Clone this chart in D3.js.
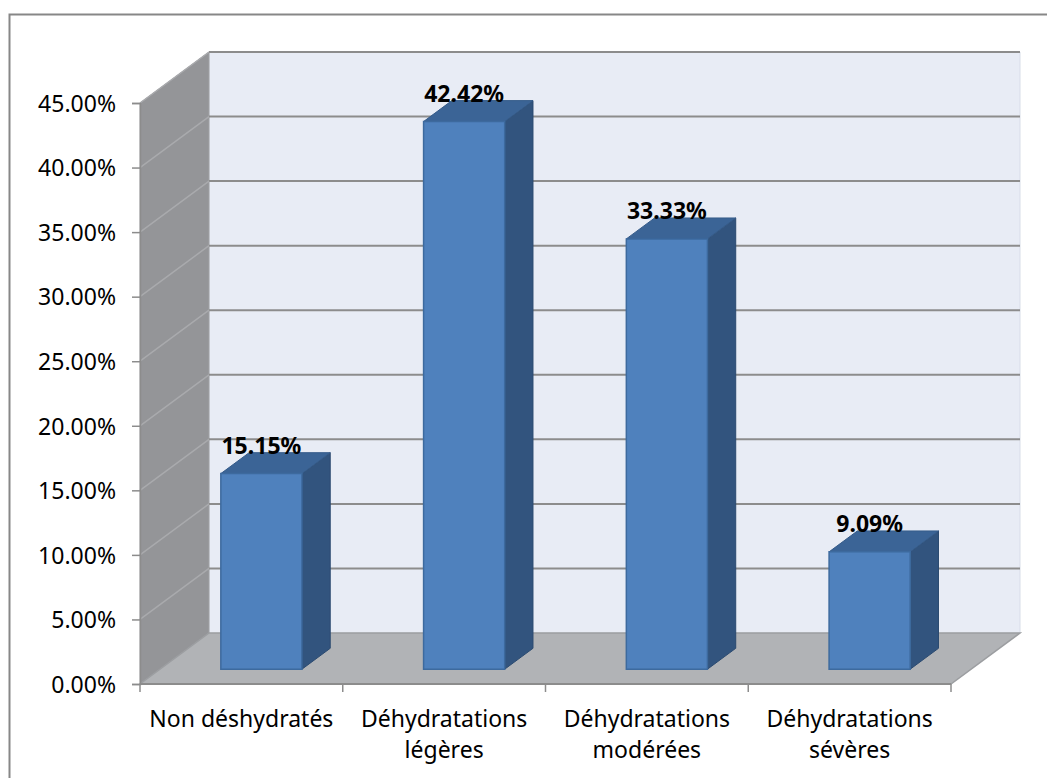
<!DOCTYPE html>
<html>
<head>
<meta charset="utf-8">
<script src="https://cdn.jsdelivr.net/npm/d3@7"></script>
<style>
  html, body { margin: 0; padding: 0; background: #ffffff; }
  svg { display: block; }
</style>
</head>
<body>
<svg id="chart" width="1047" height="778"></svg>
<script>
// Répartition des patients selon le degré de déshydratation
const categories = ["Non déshydratés", "Déhydratations\nlégères", "Déhydratations\nmodérées", "Déhydratations\nsévères"];
const values = [15.15, 42.42, 33.33, 9.09];
const yTicks = [0, 5, 10, 15, 20, 25, 30, 35, 40, 45];

const W = 1047, H = 778;
const svg = d3.select("#chart");

// front plane of the 3D box
const x = d3.scaleBand().domain(categories).range([140, 951]).paddingInner(0.6).paddingOuter(0.3);
const y = d3.scaleLinear().domain([0, 45]).range([684, 103]);

// oblique depth vector (front -> back)
const DX = 69, DY = -51;
const F0 = 0.29, F1 = 0.70;   // bar front / back depth fractions
const P = (px, py, f) => [px + f * DX, py + f * DY];

const pct = d => d3.format(".2f")(d) + "%";
const font = "'Noto Sans', 'DejaVu Sans', sans-serif";

// outer frame
svg.append("rect")
  .attr("x", 9.5).attr("y", 14.5).attr("width", W).attr("height", H)
  .attr("fill", "#ffffff").attr("stroke", "#878787").attr("stroke-width", 2);

const x0 = x.range()[0], x1 = x.range()[1];
const y0 = y(0), yTop = y(45);

// back wall
const backPts = [P(x0, yTop, 1), P(x1, yTop, 1), P(x1, y0, 1), P(x0, y0, 1)];
svg.append("polygon").attr("points", backPts.map(p => p.join(",")).join(" "))
  .attr("fill", "#e8ecf5").attr("stroke", "#d8dde8").attr("stroke-width", 1);

// left wall
const leftPts = [[x0, yTop], P(x0, yTop, 1), P(x0, y0, 1), [x0, y0]];
svg.append("polygon").attr("points", leftPts.map(p => p.join(",")).join(" "))
  .attr("fill", "#949598").attr("stroke", "#a0a1a4").attr("stroke-width", 1);

// gridlines on back wall
svg.append("g").selectAll("line").data(yTicks.filter(d => d > 0)).join("line")
  .attr("x1", d => P(x0, y(d), 1)[0]).attr("y1", d => P(x0, y(d), 1)[1])
  .attr("x2", d => P(x1, y(d), 1)[0]).attr("y2", d => P(x1, y(d), 1)[1])
  .attr("stroke", "#8c8c8c").attr("stroke-width", 2);

// gridlines on left wall
svg.append("g").selectAll("line").data(yTicks.filter(d => d > 0)).join("line")
  .attr("x1", x0).attr("y1", d => y(d))
  .attr("x2", d => P(x0, y(d), 1)[0]).attr("y2", d => P(x0, y(d), 1)[1])
  .attr("stroke", "#a9aaad").attr("stroke-width", 1.5);

// floor
const floorPts = [[x0, y0], [x1, y0], P(x1, y0, 1), P(x0, y0, 1)];
svg.append("polygon").attr("points", floorPts.map(p => p.join(",")).join(" "))
  .attr("fill", "#b1b3b6").attr("stroke", "#9c9ea1").attr("stroke-width", 1.5);
svg.append("line").attr("x1", x0).attr("y1", y0).attr("x2", x1).attr("y2", y0)
  .attr("stroke", "#8c8c8c").attr("stroke-width", 2);

// y axis
const yAxis = svg.append("g").attr("transform", `translate(${x0},0)`)
  .call(d3.axisLeft(y).tickValues(yTicks).tickFormat(pct).tickSize(8).tickPadding(16));
yAxis.select(".domain").attr("stroke", "#8c8c8c").attr("stroke-width", 1.5);
yAxis.selectAll(".tick line").attr("stroke", "#8c8c8c").attr("stroke-width", 1.5);
yAxis.selectAll(".tick text").attr("font-family", font).attr("font-size", 23)
  .attr("fill", "#000").attr("dy", "0.36em");

// x axis ticks at category boundaries
const step = x.step();
svg.append("g").selectAll("line").data(d3.range(categories.length + 1)).join("line")
  .attr("x1", i => x0 + i * step).attr("x2", i => x0 + i * step)
  .attr("y1", y0).attr("y2", y0 + 8)
  .attr("stroke", "#8c8c8c").attr("stroke-width", 1.5);

// category labels
const catG = svg.append("g").attr("font-family", font).attr("font-size", 23).attr("fill", "#000")
  .attr("text-anchor", "middle");
catG.selectAll("text").data(categories).join("text")
  .attr("x", d => x(d) + x.bandwidth() / 2)
  .attr("y", 727)
  .each(function(d) {
    const t = d3.select(this);
    d.split("\n").forEach((line, i) => {
      t.append("tspan").attr("x", x(d) + x.bandwidth() / 2).attr("dy", i === 0 ? 0 : 31).text(line);
    });
  });

// 3D bars
const bars = svg.append("g");
categories.forEach((c, i) => {
  const v = values[i];
  const bl = x(c), br = x(c) + x.bandwidth();
  const ft = y(v), fb = y(0);
  const FL_T = P(bl, ft, F0), FR_T = P(br, ft, F0), FR_B = P(br, fb, F0), FL_B = P(bl, fb, F0);
  const BL_T = P(bl, ft, F1), BR_T = P(br, ft, F1), BR_B = P(br, fb, F1);
  const g = bars.append("g");
  g.append("polygon").attr("points", [FR_T, BR_T, BR_B, FR_B].map(p => p.join(",")).join(" "))
    .attr("fill", "#32547e").attr("stroke", "#2b4a70").attr("stroke-width", 1);
  g.append("polygon").attr("points", [FL_T, FR_T, BR_T, BL_T].map(p => p.join(",")).join(" "))
    .attr("fill", "#3b6496").attr("stroke", "#355b89").attr("stroke-width", 1);
  g.append("polygon").attr("points", [FL_T, FR_T, FR_B, FL_B].map(p => p.join(",")).join(" "))
    .attr("fill", "#4f81bd").attr("stroke", "#3d6a9e").attr("stroke-width", 1.5);
});

// data labels
svg.append("g").attr("font-family", font).attr("font-size", 23).attr("font-weight", "bold")
  .attr("text-anchor", "middle").attr("fill", "#000")
  .selectAll("text").data(values).join("text")
  .attr("x", (d, i) => P(x(categories[i]) + x.bandwidth() / 2, 0, F0)[0])
  .attr("y", d => P(0, y(d), F0)[1] - 20)
  .text(pct);
</script>
</body>
</html>
